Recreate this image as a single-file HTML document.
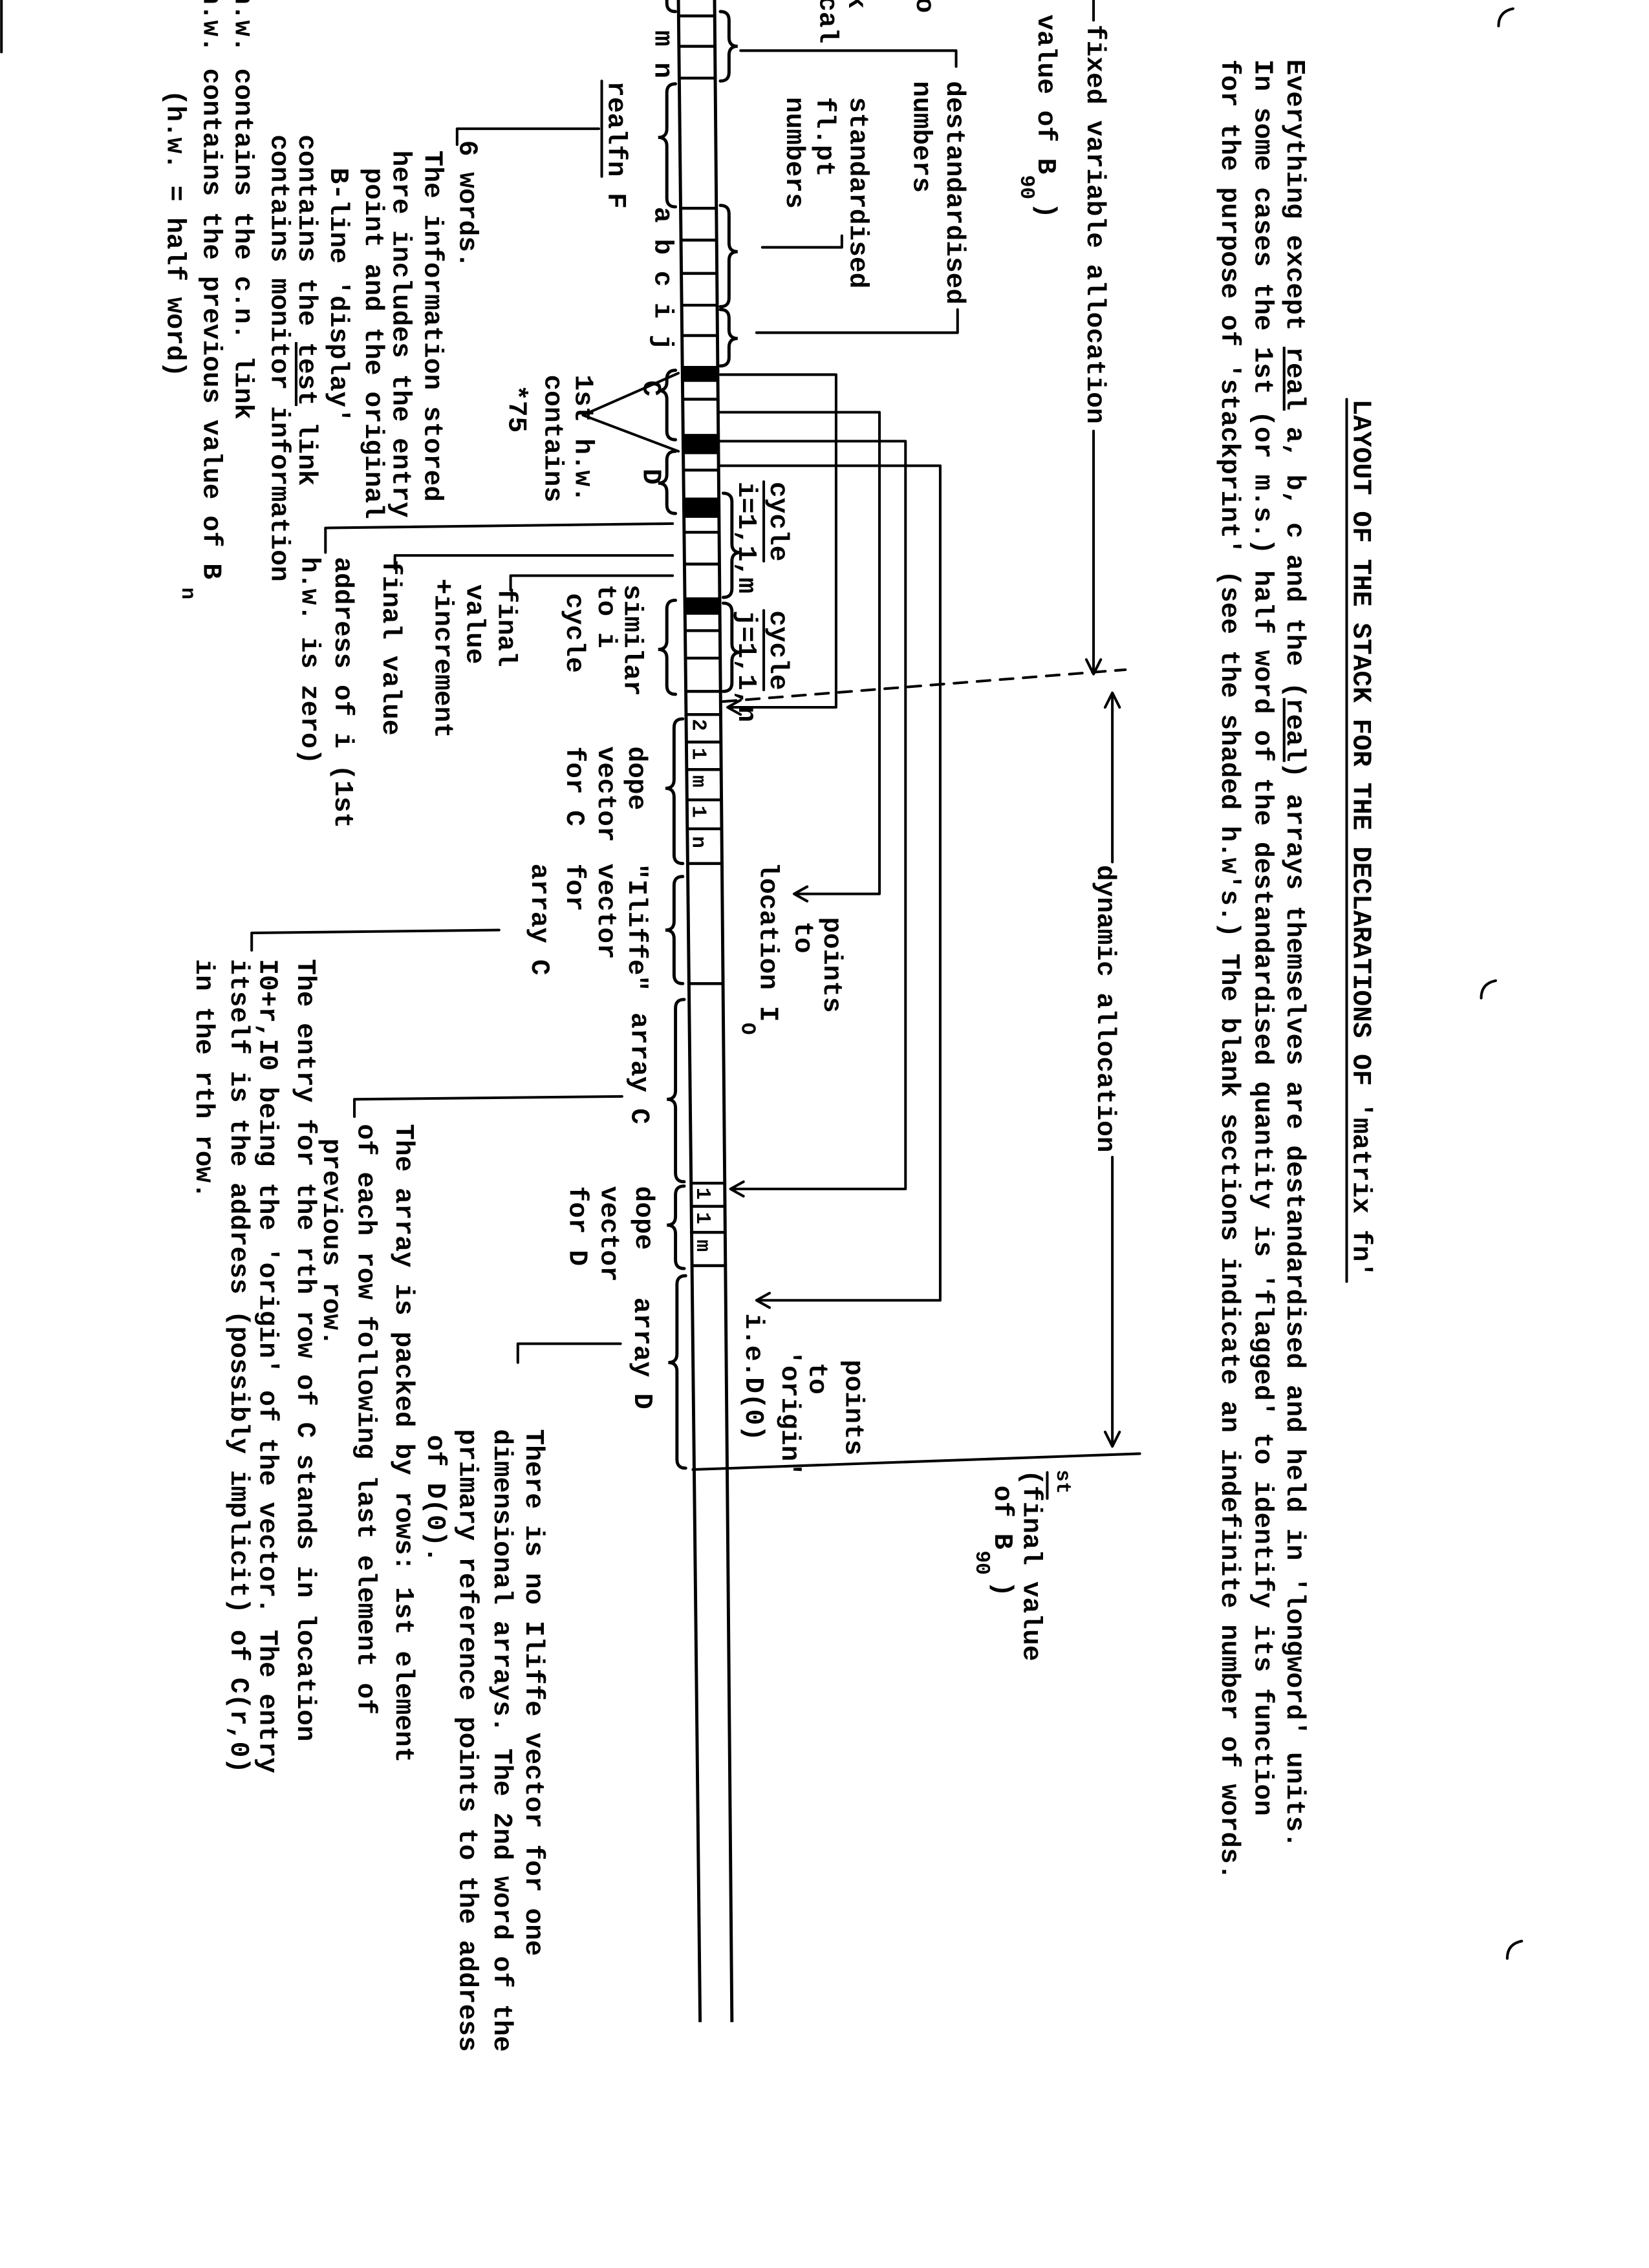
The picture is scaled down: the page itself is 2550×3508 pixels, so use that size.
<!DOCTYPE html>
<html><head><meta charset="utf-8">
<style>
html,body{margin:0;padding:0;background:#fff;}
svg{display:block;}
.n{font-family:"Liberation Mono",monospace;font-size:18.4px;font-weight:bold;fill:#000;}
.s{font-family:"Liberation Mono",monospace;font-size:14px;font-weight:bold;fill:#000;}
.l{stroke:#000;stroke-width:1.8;fill:none;stroke-linecap:round;stroke-linejoin:round;}
.b{stroke:#000;stroke-width:2.2;fill:none;stroke-linecap:round;}
</style></head>
<body>
<svg width="2550" height="3508" viewBox="0 0 1140 1568" preserveAspectRatio="none" xmlns="http://www.w3.org/2000/svg">
<rect x="0" y="0" width="1140" height="1568" fill="#fff"/>

<text class="n" transform="translate(936,276) rotate(90)">LAYOUT OF THE STACK FOR THE DECLARATIONS OF 'matrix fn'</text>
<line class="l" x1="931" y1="276" x2="931" y2="886"/>
<text class="n" transform="translate(890,41) rotate(90)">Everything except <tspan text-decoration="underline">real</tspan> a, b, c and the (<tspan text-decoration="underline">real</tspan>) arrays themselves are destandardised and held in 'longword' units.</text>
<text class="n" transform="translate(868,41) rotate(90)">In some cases the 1st (or m.s.) half word of the destandardised quantity is 'flagged' to identify its function</text>
<text class="n" transform="translate(845,41) rotate(90)">for the purpose of 'stackprint' (see the shaded h.w's.)  The blank sections indicate an indefinite number of words.</text>

<path class="l" d="M1036,18 Q1036,8 1046,6"/>
<path class="l" d="M1024,690 Q1024,680 1034,678"/>
<path class="l" d="M1042,1354 Q1042,1344 1052,1342"/>
<line class="l" x1="1" y1="0" x2="1" y2="36"/>

<line class="l" x1="756" y1="0" x2="756" y2="14"/>
<text class="n" transform="translate(752,17) rotate(90)">fixed variable allocation</text>
<line class="l" x1="756" y1="298" x2="756" y2="465"/>
<path class="l" d="M751,456 L756,466 L761,456"/>
<text class="n" transform="translate(718,10) rotate(90)">value of B</text>
<text class="s" transform="translate(706,121) rotate(90)">90</text>
<text class="n" transform="translate(718,140) rotate(90)">)</text>

<line class="l" x1="769" y1="480" x2="769" y2="596"/>
<path class="l" d="M764,489 L769,479 L774,489"/>
<text class="n" transform="translate(759,598) rotate(90)">dynamic allocation</text>
<line class="l" x1="769" y1="800" x2="769" y2="999"/>
<path class="l" d="M764,990 L769,1000 L774,990"/>
<line class="l" x1="479" y1="1016" x2="788" y2="1005"/>
<text class="s" transform="translate(731,1016) rotate(90)">st</text>
<line class="l" x1="724" y1="1018" x2="724" y2="1036"/>
<text class="n" transform="translate(708,1016) rotate(90)">(final value</text>
<text class="n" transform="translate(688,1027) rotate(90)">of B</text>
<text class="s" transform="translate(675,1072) rotate(90)">90</text>
<text class="n" transform="translate(688,1093) rotate(90)">)</text>

<line class="l" x1="500" y1="485" x2="778" y2="463" stroke-dasharray="9,7"/>

<line x1="469" y1="0" x2="484" y2="1398" stroke="#000" stroke-width="2.2"/>
<line x1="494" y1="0" x2="506" y2="1398" stroke="#000" stroke-width="2.2"/>
<g stroke="#000" stroke-width="2">
<line x1="469" y1="11" x2="494" y2="11"/>
<line x1="469" y1="32" x2="494" y2="32"/>
<line x1="470" y1="54" x2="495" y2="54"/>
<line x1="470" y1="144" x2="495" y2="144"/>
<line x1="471" y1="166" x2="496" y2="166"/>
<line x1="471" y1="189" x2="496" y2="189"/>
<line x1="471" y1="211" x2="496" y2="211"/>
<line x1="471" y1="232" x2="496" y2="232"/>
<line x1="472" y1="276" x2="497" y2="276"/>
<line x1="472" y1="325" x2="497" y2="325"/>
<line x1="473" y1="368" x2="497" y2="368"/>
<line x1="473" y1="390" x2="497" y2="390"/>
<line x1="473" y1="436" x2="498" y2="436"/>
<line x1="473" y1="455" x2="498" y2="455"/>
<line x1="474" y1="478" x2="498" y2="478"/>
<line x1="474" y1="494" x2="499" y2="494"/>
<line x1="474" y1="513" x2="499" y2="513"/>
<line x1="474" y1="532" x2="499" y2="532"/>
<line x1="474" y1="553" x2="499" y2="553"/>
<line x1="475" y1="573" x2="499" y2="573"/>
<line x1="475" y1="597" x2="499" y2="597"/>
<line x1="476" y1="680" x2="500" y2="680"/>
<line x1="477" y1="818" x2="501" y2="818"/>
<line x1="477" y1="834" x2="501" y2="834"/>
<line x1="477" y1="852" x2="501" y2="852"/>
<line x1="478" y1="875" x2="502" y2="875"/>
</g>
<g fill="#000">
<rect x="471" y="253" width="25" height="11"/>
<rect x="472" y="300" width="25" height="14"/>
<rect x="472" y="344" width="25" height="14"/>
<rect x="473" y="413" width="25" height="12"/>
</g>
<text class="s" transform="translate(479,497) rotate(90)">2</text>
<text class="s" transform="translate(479,517) rotate(90)">1</text>
<text class="s" transform="translate(479,536) rotate(90)">m</text>
<text class="s" transform="translate(479,557) rotate(90)">1</text>
<text class="s" transform="translate(479,578) rotate(90)">n</text>
<text class="s" transform="translate(482,821) rotate(90)">1</text>
<text class="s" transform="translate(482,838) rotate(90)">1</text>
<text class="s" transform="translate(482,857) rotate(90)">m</text>

<path class="b" d="M498,8 Q504,8 504,14 L504,26 Q504,32 510,32 Q504,32 504,38 L504,50 Q504,56 498,56"/>
<path class="b" d="M498,142 Q504,142 504,148 L504,168 Q504,174 510,174 Q504,174 504,180 L504,206 Q504,212 498,212"/>
<path class="b" d="M498,214 Q504,214 504,220 L504,228 Q504,234 510,234 Q504,234 504,240 L504,247 Q504,253 498,253"/>
<path class="b" d="M500,341 Q506,341 506,347 L506,376 Q506,382 512,382 Q506,382 506,388 L506,407 Q506,413 500,413"/>
<path class="b" d="M500,417 Q506,417 506,423 L506,445 Q506,451 512,451 Q506,451 506,457 L506,472 Q506,478 500,478"/>
<path class="b" d="M461,0 L461,2 Q461,8 467,8"/>
<path class="b" d="M467,58 Q461,58 461,64 L461,89 Q461,95 455,95 Q461,95 461,101 L461,137 Q461,143 467,143"/>
<path class="b" d="M467,256 Q461,256 461,262 L461,264 Q461,270 455,270 Q461,270 461,276 L461,298 Q461,304 467,304"/>
<path class="b" d="M467,312 Q461,312 461,318 L461,328 Q461,334 455,334 Q461,334 461,340 L461,349 Q461,355 467,355"/>
<path class="b" d="M467,415 Q461,415 461,421 L461,443 Q461,449 455,449 Q461,449 461,455 L461,474 Q461,480 467,480"/>
<path class="b" d="M472,497 Q466,497 466,503 L466,539 Q466,545 460,545 Q466,545 466,551 L466,591 Q466,597 472,597"/>
<path class="b" d="M472,606 Q466,606 466,612 L466,637 Q466,643 460,643 Q466,643 466,649 L466,674 Q466,680 472,680"/>
<path class="b" d="M473,691 Q467,691 467,697 L467,754 Q467,760 461,760 Q467,760 467,766 L467,811 Q467,817 473,817"/>
<path class="b" d="M473,820 Q467,820 467,826 L467,841 Q467,847 461,847 Q467,847 467,853 L467,871 Q467,877 473,877"/>
<path class="b" d="M474,882 Q468,882 468,888 L468,936 Q468,942 462,942 Q468,942 468,948 L468,1009 Q468,1015 474,1015"/>

<path class="l" d="M512,35 L661,35 L661,46"/>
<path class="l" d="M527,171 L582,171 L582,163"/>
<path class="l" d="M523,230 L662,230 L662,214"/>
<path class="l" d="M498,259 L578,259 L578,489 L505,489"/>
<path class="l" d="M512,484 L503,489 L512,494"/>
<path class="l" d="M498,285 L608,285 L608,618 L550,618"/>
<path class="l" d="M558,613 L549,618 L558,623"/>
<path class="l" d="M498,305 L626,305 L626,822 L506,822"/>
<path class="l" d="M514,817 L505,822 L514,827"/>
<path class="l" d="M498,322 L650,322 L650,899 L524,899"/>
<path class="l" d="M532,894 L523,899 L532,904"/>

<text class="n" transform="translate(634,-2) rotate(90)">o</text>
<text class="n" transform="translate(587,-5) rotate(90)">k</text>
<text class="n" transform="translate(567,-3) rotate(90)">cal</text>
<text class="n" transform="translate(655,56) rotate(90)">destandardised</text>
<text class="n" transform="translate(632,56) rotate(90)">numbers</text>
<text class="n" transform="translate(588,67) rotate(90)">standardised</text>
<text class="n" transform="translate(565,67) rotate(90)">fl.pt</text>
<text class="n" transform="translate(544,67) rotate(90)">numbers</text>
<text class="n" transform="translate(533,333) rotate(90)">cycle</text>
<line class="l" x1="528" y1="333" x2="528" y2="388"/>
<text class="n" transform="translate(511,333) rotate(90)">i=1,1,m</text>
<text class="n" transform="translate(533,422) rotate(90)">cycle</text>
<line class="l" x1="528" y1="422" x2="528" y2="477"/>
<text class="n" transform="translate(511,422) rotate(90)">j=1,1,n</text>
<text class="n" transform="translate(570,634) rotate(90)">points</text>
<text class="n" transform="translate(550,637) rotate(90)">to</text>
<text class="n" transform="translate(526,596) rotate(90)">location I</text>
<text class="s" transform="translate(513,707) rotate(90)">O</text>
<text class="n" transform="translate(585,940) rotate(90)">points</text>
<text class="n" transform="translate(560,942) rotate(90)">to</text>
<text class="n" transform="translate(541,933) rotate(90)">'origin'</text>
<text class="n" transform="translate(516,908) rotate(90)">i.e.D(0)</text>

<text class="n" transform="translate(453,21) rotate(90)">m n</text>
<text class="n" transform="translate(421,56) rotate(90)">realfn F</text>
<line class="l" x1="416" y1="56" x2="416" y2="122"/>
<text class="n" transform="translate(453,143) rotate(90)">a b c i j</text>
<text class="n" transform="translate(445,263) rotate(90)">C</text>
<text class="n" transform="translate(445,324) rotate(90)">D</text>
<path class="l" d="M469,258 L403,287 L469,312"/>
<text class="n" transform="translate(398,259) rotate(90)">1st h.w.</text>
<text class="n" transform="translate(377,259) rotate(90)">contains</text>
<text class="n" transform="translate(352,266) rotate(90)">*75</text>

<path class="l" d="M414,89 L316,89 L316,100"/>
<text class="n" transform="translate(318,97) rotate(90)">6 words.</text>
<text class="n" transform="translate(294,104) rotate(90)">The information stored</text>
<text class="n" transform="translate(272,104) rotate(90)">here includes the entry</text>
<text class="n" transform="translate(253,116) rotate(90)">point and the original</text>
<text class="n" transform="translate(229,116) rotate(90)">B-line 'display'</text>
<text class="n" transform="translate(207,93) rotate(90)">contains the <tspan text-decoration="underline">test</tspan> link</text>
<text class="n" transform="translate(188,93) rotate(90)">contains monitor information</text>
<text class="n" transform="translate(163,-8) rotate(90)">h.w. contains the c.n. link</text>
<text class="n" transform="translate(141,-8) rotate(90)">h.w. contains the previous value of B</text>
<text class="s" transform="translate(126,406) rotate(90)">n</text>
<text class="n" transform="translate(116,62) rotate(90)">(h.w. = half word)</text>

<text class="n" transform="translate(432,404) rotate(90)">similar</text>
<text class="n" transform="translate(414,404) rotate(90)">to i</text>
<text class="n" transform="translate(392,410) rotate(90)">cycle</text>
<path class="l" d="M465,398 L353,398 L353,408"/>
<text class="n" transform="translate(345,406) rotate(90)">final</text>
<text class="n" transform="translate(323,404) rotate(90)">value</text>
<text class="n" transform="translate(301,400) rotate(90)">+increment</text>
<path class="l" d="M465,384 L273,384 L273,393"/>
<text class="n" transform="translate(265,387) rotate(90)">final value</text>
<path class="l" d="M465,362 L225,365 L225,382"/>
<text class="n" transform="translate(232,385) rotate(90)">address of i (1st</text>
<text class="n" transform="translate(209,385) rotate(90)">h.w. is zero)</text>

<text class="n" transform="translate(435,516) rotate(90)">dope</text>
<text class="n" transform="translate(414,516) rotate(90)">vector</text>
<text class="n" transform="translate(392,516) rotate(90)">for C</text>
<text class="n" transform="translate(435,597) rotate(90)">"Iliffe"</text>
<text class="n" transform="translate(414,597) rotate(90)">vector</text>
<text class="n" transform="translate(392,597) rotate(90)">for</text>
<text class="n" transform="translate(368,597) rotate(90)">array C</text>
<text class="n" transform="translate(437,700) rotate(90)">array C</text>
<text class="n" transform="translate(440,820) rotate(90)">dope</text>
<text class="n" transform="translate(416,820) rotate(90)">vector</text>
<text class="n" transform="translate(394,820) rotate(90)">for D</text>
<text class="n" transform="translate(439,897) rotate(90)">array D</text>

<path class="l" d="M430,758 L245,760 L245,772"/>
<text class="n" transform="translate(274,777) rotate(90)">The array is packed by rows: 1st element</text>
<text class="n" transform="translate(248,777) rotate(90)">of each row following last element of</text>
<text class="n" transform="translate(224,787) rotate(90)">previous row.</text>

<path class="l" d="M345,643 L174,645 L174,657"/>
<text class="n" transform="translate(206,663) rotate(90)">The entry for the rth row of C stands in location</text>
<text class="n" transform="translate(180,663) rotate(90)">I0+r,I0 being the 'origin' of the vector.  The entry</text>
<text class="n" transform="translate(160,663) rotate(90)">itself is the address (possibly implicit) of C(r,0)</text>
<text class="n" transform="translate(136,663) rotate(90)">in the rth row.</text>

<path class="l" d="M429,929 L358,929 L358,942"/>
<text class="n" transform="translate(364,988) rotate(90)">There is no Iliffe vector for one</text>
<text class="n" transform="translate(342,988) rotate(90)">dimensional arrays.  The 2nd word of the</text>
<text class="n" transform="translate(318,988) rotate(90)">primary reference points to the address</text>
<text class="n" transform="translate(296,992) rotate(90)">of D(0).</text>
</svg>
</body></html>
